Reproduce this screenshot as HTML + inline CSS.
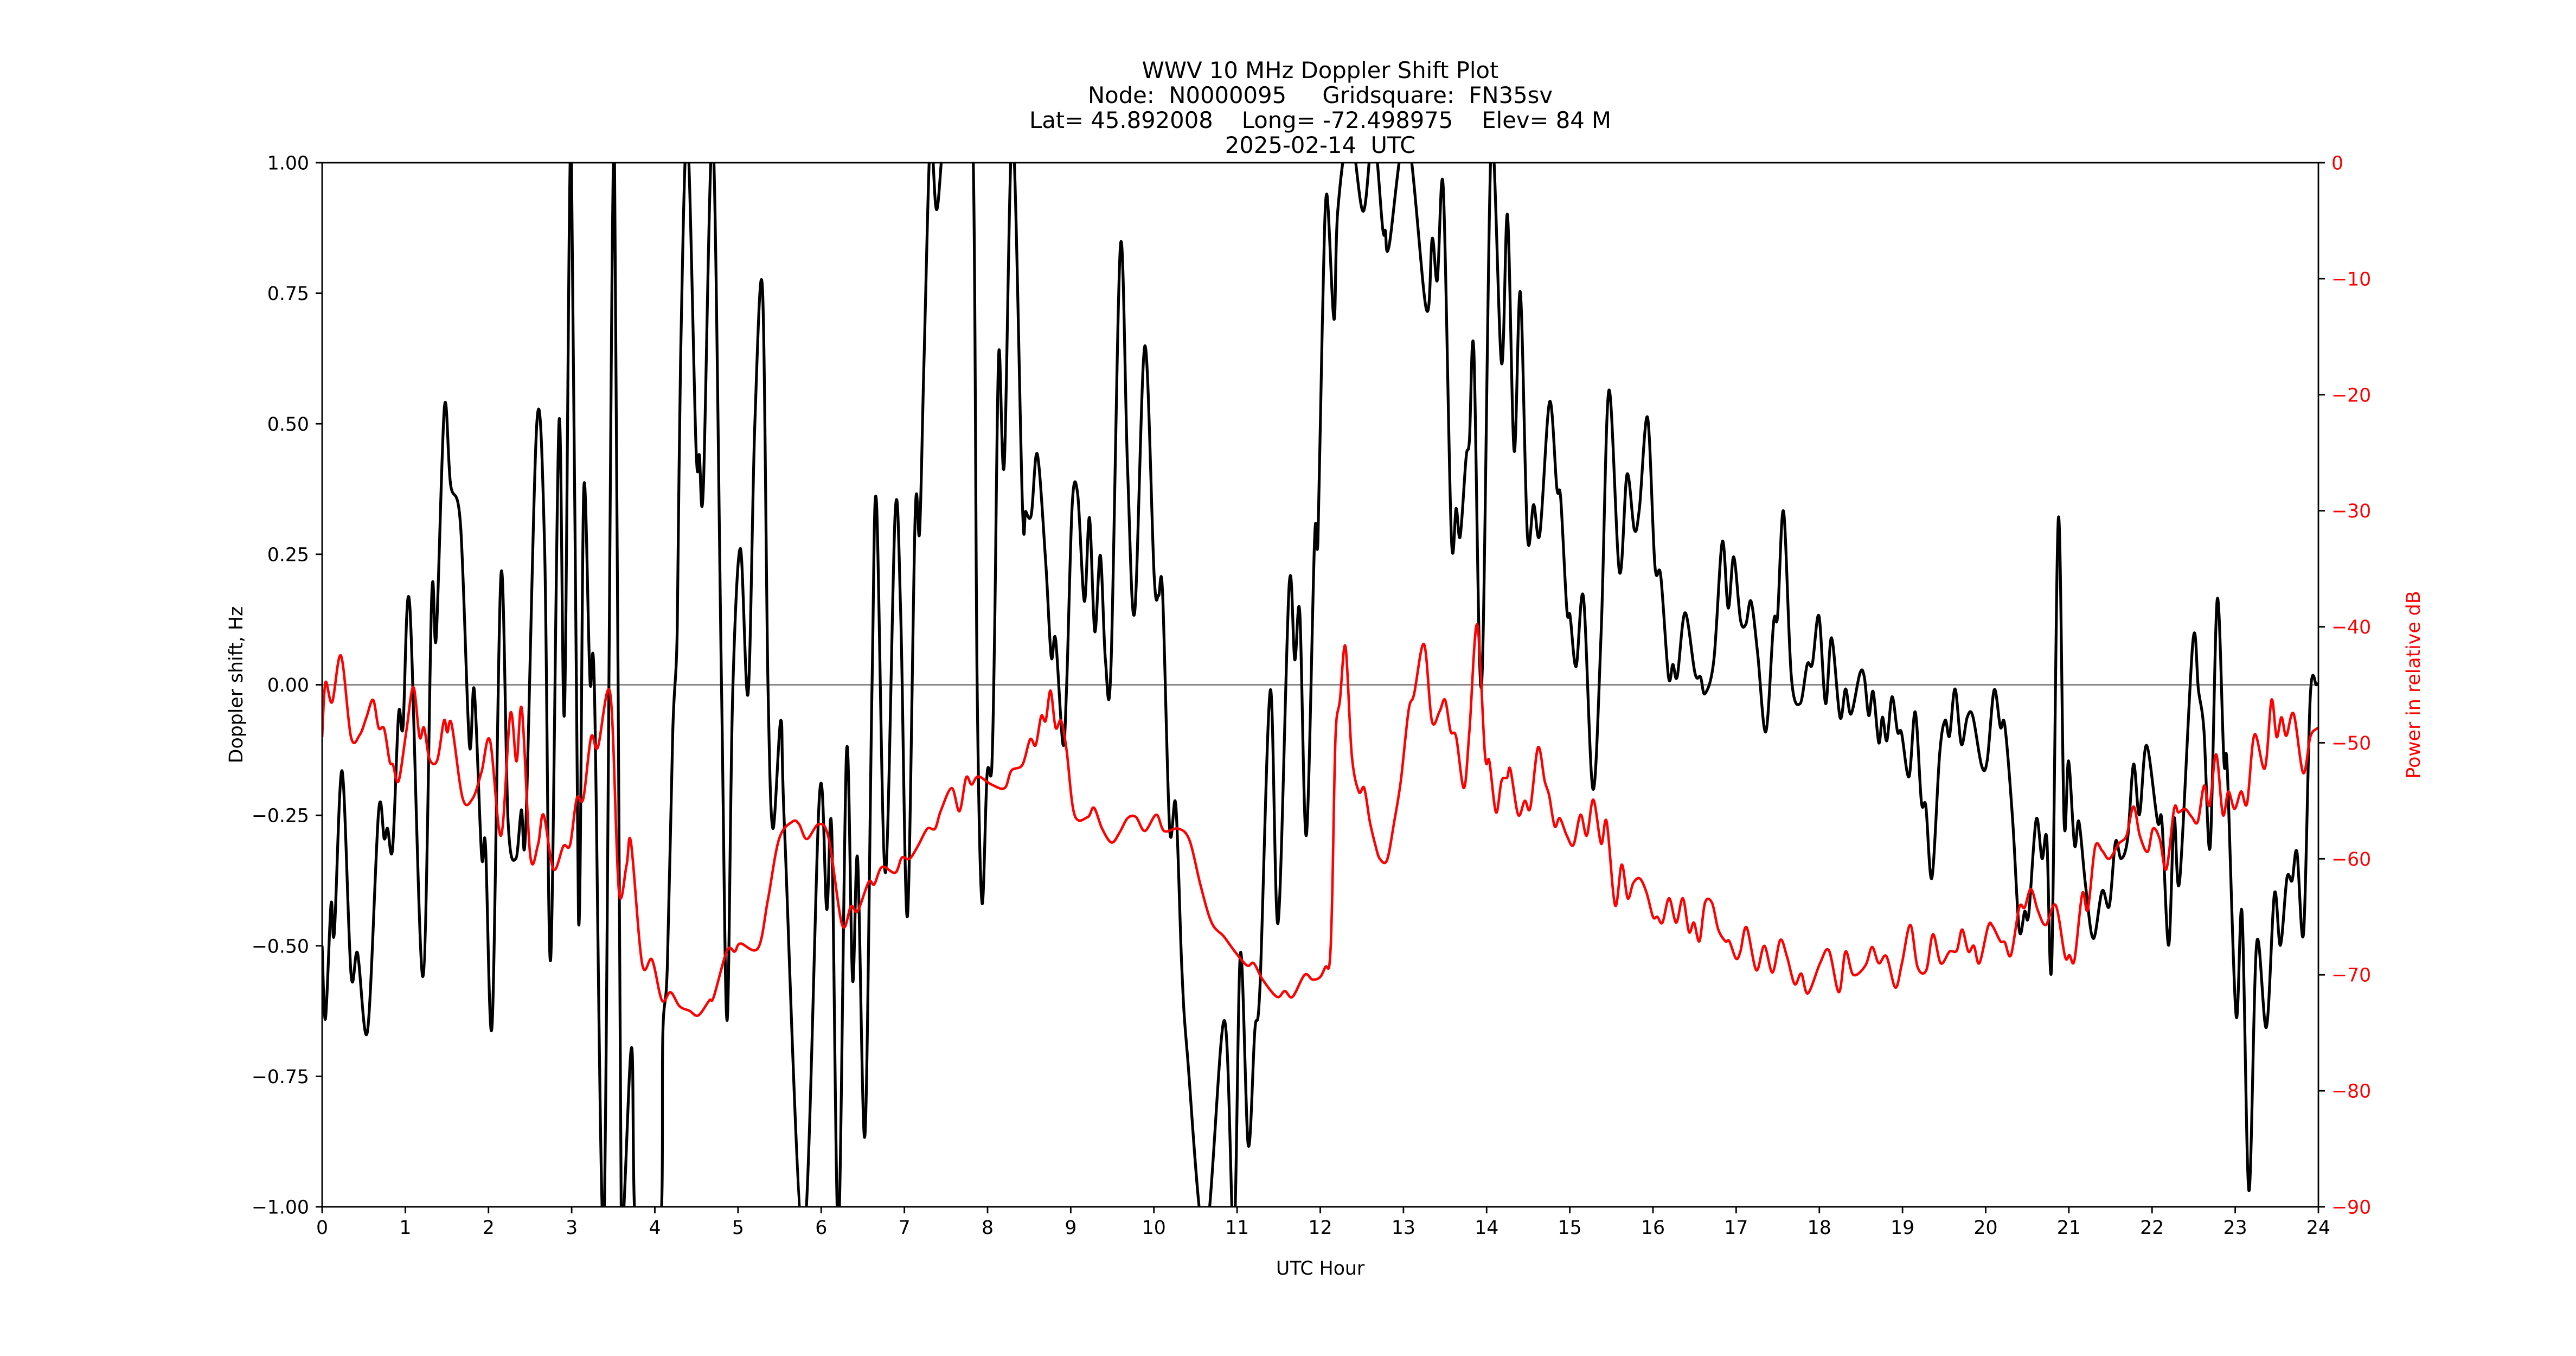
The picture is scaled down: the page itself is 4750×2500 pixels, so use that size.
<!DOCTYPE html>
<html><head><meta charset="utf-8"><title>WWV Doppler</title>
<style>html,body{margin:0;padding:0;background:#fff;width:4750px;height:2500px;overflow:hidden}svg{display:block;position:absolute;left:0;top:0}text{font-family:"DejaVu Sans","Liberation Sans",sans-serif}</style>
</head><body>
<svg id="chart" xmlns="http://www.w3.org/2000/svg" width="4750" height="2500" viewBox="0 0 4750 2500" overflow="hidden">
<rect x="0" y="0" width="4750" height="2500" fill="#fff"/>
<g font-size="41.7" text-anchor="middle" fill="#000" style="white-space:pre">
<text x="2434.5" y="144" xml:space="preserve">WWV 10 MHz Doppler Shift Plot</text>
<text x="2434.5" y="190" xml:space="preserve">Node:  N0000095     Gridsquare:  FN35sv</text>
<text x="2434.5" y="236" xml:space="preserve">Lat= 45.892008    Long= -72.498975    Elev= 84 M</text>
<text x="2434.5" y="282" xml:space="preserve">2025-02-14  UTC</text>
</g>
<defs><clipPath id="plotclip"><rect x="594" y="300" width="3681" height="1925"/></clipPath></defs>
<g id="plot" clip-path="url(#plotclip)"></g>
<rect x="594" y="300" width="3681" height="1925" fill="none" stroke="#000" stroke-width="2.8"/>
<g id="ticks"></g>
<text x="2434.5" y="2350" font-size="34.7" text-anchor="middle">UTC Hour</text>
<text transform="translate(447,1262.5) rotate(-90)" font-size="34.7" text-anchor="middle">Doppler shift, Hz</text>
<text transform="translate(4462,1262.5) rotate(-90)" font-size="34.7" text-anchor="middle" fill="#ff0000">Power in relative dB</text>
</svg>
<script>
const xTicks=[0,1,2,3,4,5,6,7,8,9,10,11,12,13,14,15,16,17,18,19,20,21,22,23,24];
const leftTicks=[1,0.75,0.5,0.25,0,-0.25,-0.5,-0.75,-1];
const leftTickLabels=["1.00","0.75","0.50","0.25","0.00","\u22120.25","\u22120.50","\u22120.75","\u22121.00"];
const rightTicks=[0,-10,-20,-30,-40,-50,-60,-70,-80,-90];
const rightTickLabels=["0","\u221210","\u221220","\u221230","\u221240","\u221250","\u221260","\u221270","\u221280","\u221290"];
const dopplerHours=[0,0.04,0.107,0.147,0.24,0.347,0.426,0.546,0.679,0.746,0.786,0.847,0.919,0.972,1.052,1.211,1.318,1.371,1.47,1.544,1.664,1.77,1.829,1.917,1.964,2.044,2.151,2.236,2.329,2.395,2.449,2.582,2.675,2.747,2.848,2.914,2.994,3.082,3.146,3.22,3.274,3.385,3.513,3.598,3.72,3.779,4.058,4.096,4.15,4.216,4.269,4.309,4.389,4.495,4.535,4.583,4.695,4.801,4.868,4.935,5.028,5.121,5.201,5.294,5.36,5.419,5.515,5.56,5.786,5.98,6.066,6.127,6.207,6.305,6.377,6.438,6.526,6.611,6.664,6.771,6.89,6.957,7.037,7.13,7.183,7.236,7.316,7.388,7.49,7.675,7.82,7.875,7.933,7.994,8.05,8.085,8.135,8.201,8.3,8.419,8.459,8.526,8.598,8.699,8.765,8.818,8.906,8.951,9.018,9.084,9.164,9.225,9.289,9.356,9.417,9.484,9.598,9.683,9.768,9.891,10.003,10.056,10.104,10.189,10.263,10.335,10.402,10.615,10.846,10.96,11.04,11.134,11.213,11.275,11.4,11.493,11.626,11.693,11.754,11.833,11.932,11.972,12.024,12.077,12.165,12.21,12.356,12.516,12.636,12.75,12.782,12.827,13.035,13.274,13.346,13.407,13.479,13.575,13.634,13.682,13.753,13.793,13.846,13.94,14.06,14.179,14.251,14.331,14.405,14.49,14.565,14.64,14.757,14.844,14.89,14.964,15.004,15.076,15.164,15.278,15.377,15.47,15.597,15.688,15.776,15.837,15.935,16.023,16.093,16.186,16.239,16.292,16.386,16.505,16.572,16.625,16.732,16.833,16.904,16.971,17.051,17.117,17.179,17.258,17.357,17.45,17.498,17.57,17.663,17.769,17.854,17.916,17.995,18.075,18.147,18.248,18.315,18.381,18.488,18.541,18.594,18.647,18.714,18.759,18.812,18.874,18.94,18.988,19.078,19.153,19.227,19.281,19.353,19.446,19.512,19.565,19.632,19.707,19.778,19.845,19.951,20.018,20.102,20.176,20.23,20.323,20.403,20.469,20.517,20.607,20.677,20.735,20.794,20.874,20.943,20.996,21.068,21.121,21.201,21.294,21.4,21.486,21.56,21.627,21.706,21.778,21.848,21.933,22.066,22.119,22.199,22.265,22.332,22.491,22.558,22.624,22.699,22.784,22.864,22.904,23.01,23.082,23.165,23.258,23.375,23.471,23.543,23.622,23.684,23.742,23.822,23.902,23.976,24];
const dopplerValues=[-0.5,-0.64,-0.42,-0.475,-0.165,-0.553,-0.514,-0.663,-0.243,-0.295,-0.275,-0.314,-0.056,-0.081,0.155,-0.559,0.17,0.09,0.532,0.384,0.306,-0.114,-0.01,-0.327,-0.307,-0.65,0.212,-0.262,-0.333,-0.24,-0.27,0.503,0.26,-0.527,0.504,-0.052,1.3,-0.45,0.377,0.009,-0.01,-1.3,1.3,-1.3,-0.695,-1.3,-1.1,-0.67,-0.54,-0.088,0.106,0.62,1.3,0.455,0.44,0.377,1.3,0,-0.643,-0.023,0.261,-0.017,0.494,0.758,0,-0.275,-0.068,-0.28,-1.5,-0.21,-0.43,-0.28,-1.05,-0.127,-0.566,-0.333,-0.863,0,0.351,-0.36,0.332,0.13,-0.443,0.326,0.293,0.62,1.2,0.91,1.4,1.5,1.1,0,-0.417,-0.172,-0.16,0.1,0.636,0.422,1.3,0.345,0.332,0.326,0.442,0.235,0.054,0.087,-0.114,0,0.345,0.364,0.16,0.32,0.102,0.248,0.048,0.035,0.842,0.416,0.138,0.649,0.209,0.171,0.177,-0.275,-0.23,-0.54,-0.708,-1.3,-0.643,-1.1,-0.514,-0.882,-0.663,-0.579,-0.01,-0.456,0.19,0.048,0.138,-0.288,0.28,0.276,0.687,0.94,0.7,0.907,1.2,0.907,1.1,0.875,0.87,0.84,1.3,0.72,0.855,0.775,0.952,0.287,0.338,0.284,0.435,0.468,0.642,0,1.3,0.616,0.9,0.448,0.752,0.287,0.345,0.289,0.542,0.377,0.358,0.145,0.132,0.035,0.168,-0.2,0.1,0.564,0.216,0.403,0.297,0.338,0.512,0.229,0.209,0.016,0.039,0.016,0.138,0.022,0.015,-0.017,0.048,0.274,0.147,0.245,0.125,0.116,0.16,0.061,-0.09,0.119,0.132,0.332,0.016,-0.036,0.039,0.04,0.132,-0.036,0.09,-0.062,-0.008,-0.056,0.022,0.015,-0.059,-0.013,-0.111,-0.062,-0.107,-0.023,-0.09,-0.092,-0.176,-0.052,-0.224,-0.233,-0.37,-0.134,-0.068,-0.098,-0.008,-0.114,-0.062,-0.06,-0.155,-0.145,-0.01,-0.081,-0.078,-0.256,-0.469,-0.434,-0.44,-0.258,-0.333,-0.295,-0.534,0.319,-0.262,-0.146,-0.307,-0.262,-0.385,-0.486,-0.395,-0.424,-0.301,-0.333,-0.295,-0.152,-0.249,-0.116,-0.262,-0.262,-0.499,-0.256,-0.375,0.083,-0.01,-0.088,-0.31,0.164,-0.146,-0.16,-0.633,-0.437,-0.969,-0.495,-0.656,-0.4,-0.499,-0.37,-0.375,-0.32,-0.475,-0.023,0,0];
const powerHours=[0,0.04,0.12,0.227,0.347,0.453,0.533,0.613,0.679,0.746,0.812,0.852,0.919,1.012,1.097,1.171,1.225,1.291,1.384,1.464,1.504,1.557,1.69,1.81,1.917,2.018,2.151,2.262,2.337,2.401,2.502,2.595,2.662,2.781,2.901,2.981,3.061,3.14,3.234,3.314,3.465,3.566,3.659,3.713,3.846,3.966,4.085,4.189,4.296,4.416,4.522,4.655,4.708,4.868,4.961,5.028,5.241,5.36,5.493,5.653,5.733,5.826,5.972,6.092,6.252,6.358,6.438,6.571,6.638,6.731,6.89,6.97,7.063,7.17,7.276,7.369,7.436,7.569,7.662,7.742,7.808,7.888,8.047,8.206,8.286,8.419,8.512,8.579,8.645,8.699,8.757,8.818,8.885,8.951,9.045,9.204,9.279,9.377,9.492,9.59,9.683,9.784,9.891,10.029,10.122,10.295,10.428,10.561,10.694,10.841,10.974,11.12,11.2,11.306,11.479,11.573,11.666,11.812,11.905,11.998,12.064,12.112,12.143,12.183,12.237,12.303,12.378,12.463,12.529,12.596,12.662,12.716,12.803,12.889,12.968,13.062,13.128,13.248,13.341,13.434,13.501,13.567,13.634,13.727,13.793,13.886,13.98,14.033,14.113,14.179,14.246,14.286,14.379,14.459,14.525,14.618,14.698,14.751,14.818,14.879,14.964,15.044,15.129,15.204,15.283,15.377,15.443,15.544,15.624,15.696,15.762,15.842,15.922,16.0,16.053,16.114,16.194,16.279,16.359,16.433,16.492,16.559,16.625,16.71,16.785,16.87,16.918,16.998,17.051,17.125,17.242,17.338,17.437,17.53,17.61,17.703,17.783,17.862,18.009,18.115,18.235,18.315,18.408,18.554,18.634,18.714,18.807,18.914,18.993,19.094,19.18,19.286,19.366,19.459,19.565,19.653,19.717,19.792,19.858,19.924,20.03,20.083,20.176,20.23,20.304,20.403,20.469,20.544,20.629,20.722,20.842,20.953,21.007,21.068,21.161,21.227,21.315,21.4,21.486,21.6,21.693,21.778,21.853,21.946,22.012,22.092,22.172,22.265,22.318,22.398,22.478,22.55,22.625,22.691,22.771,22.851,22.917,22.992,23.071,23.143,23.231,23.356,23.436,23.497,23.556,23.614,23.702,23.817,23.902,23.976,24];
const powerValues=[-49.5,-44.8,-46.5,-42.5,-49.5,-49.3,-47.8,-46.3,-48.7,-48.8,-51.6,-51.9,-53.3,-49,-45.2,-49.5,-48.7,-51.4,-51.5,-48.1,-49.1,-48.4,-54.8,-54.8,-52.5,-49.8,-58,-47.5,-51.6,-47.1,-59.7,-58.8,-56.2,-60.9,-58.9,-58.8,-54.8,-54.8,-49.5,-50.4,-45.8,-62.6,-60.6,-58.6,-69,-68.7,-72.2,-71.5,-72.7,-73.1,-73.5,-72.2,-71.9,-67.9,-68,-67.3,-67.7,-63.5,-58.3,-56.8,-57,-58.3,-57,-58.3,-65.7,-64.1,-64.5,-62,-62.2,-60.7,-61.2,-59.9,-60,-58.8,-57.4,-57.4,-55.9,-53.9,-55.9,-53,-53.6,-52.9,-53.6,-53.9,-52.4,-51.9,-49.7,-50.2,-47.7,-48.1,-45.5,-48.7,-48.1,-50.7,-56.2,-56.4,-55.6,-57.4,-58.6,-57.7,-56.5,-56.4,-57.6,-56.2,-57.6,-57.4,-58.4,-62.3,-65.5,-66.7,-68,-69.2,-69,-70.4,-71.9,-71.4,-71.9,-70,-70.4,-70.2,-69.3,-69,-63.5,-49.5,-46.3,-41.7,-51,-54.2,-53.9,-56.8,-58.8,-60,-60.1,-56.8,-53.3,-47.2,-45.8,-41.5,-48.1,-47.3,-46.3,-49,-49.5,-53.9,-49,-39.8,-51,-51.6,-56,-53.3,-53,-52.3,-56.2,-55,-55.6,-50.4,-53.3,-54.5,-57.2,-56.5,-58,-58.8,-56.2,-58,-54.9,-58.7,-56.8,-64,-60.5,-63.4,-62.1,-61.7,-62.9,-65,-65,-65.5,-63.4,-65.5,-63.4,-66.3,-65.5,-67.1,-63.8,-63.8,-66.1,-67.1,-67.1,-68.6,-68,-65.9,-69.6,-67.5,-69.8,-67,-68.4,-70.8,-69.9,-71.6,-69,-67.9,-71.5,-68,-70,-69.2,-67.6,-69,-68.4,-71.1,-69,-65.7,-69.3,-69.6,-66.5,-69,-68,-67.9,-66.1,-68,-67.5,-69,-65.8,-65.8,-67.1,-67.2,-68.3,-64.2,-64.2,-62.6,-64.5,-65.7,-64,-68.4,-68.3,-68.7,-63,-64.4,-59,-59.3,-60,-58.7,-58,-55.5,-58,-59.4,-57.4,-58.3,-60.9,-55.7,-56,-55.7,-56.4,-56.8,-53.7,-55.4,-51,-56.2,-54.2,-55.7,-54.2,-55.2,-49.3,-52.2,-46.3,-49.5,-47.8,-49.4,-47.5,-52.6,-49.5,-48.8,-48.8];

const NS='http://www.w3.org/2000/svg';
const X0=594,X1=4275,Y0=300,Y1=2225;
function xScale(h){return X0+(h-0)/(24-0)*(X1-X0);}
function yLeft(v){return Y0+(1-v)/(2)*(Y1-Y0);}
function yRight(d){return Y0+(0-d)/(90)*(Y1-Y0);}
function clampY(y){return Math.max(Y0-60,Math.min(Y1+60,y));}
function smoothPath(xs,ys){
  const p=xs.map((x,i)=>[x,ys[i]]);
  let d='M'+p[0][0].toFixed(1)+','+p[0][1].toFixed(1);
  for(let i=0;i<p.length-1;i++){
    const a=p[Math.max(0,i-1)],b=p[i],c=p[i+1],e=p[Math.min(p.length-1,i+2)];
    const c1x=b[0]+(c[0]-a[0])/6,c1y=clampY(b[1]+(c[1]-a[1])/6);
    const c2x=c[0]-(e[0]-b[0])/6,c2y=clampY(c[1]-(e[1]-b[1])/6);
    d+='C'+c1x.toFixed(1)+','+c1y.toFixed(1)+' '+c2x.toFixed(1)+','+c2y.toFixed(1)+' '+c[0].toFixed(1)+','+c[1].toFixed(1);
  }
  return d;
}
const plot=document.getElementById('plot');
const zero=document.createElementNS(NS,'line');
zero.setAttribute('x1',X0);zero.setAttribute('x2',X1);
zero.setAttribute('y1',yLeft(0));zero.setAttribute('y2',yLeft(0));
zero.setAttribute('stroke','#808080');zero.setAttribute('stroke-width','2.8');


plot.appendChild(zero);
const black=document.createElementNS(NS,'path');
black.setAttribute('d',smoothPath(dopplerHours.map(xScale),dopplerValues.map(function(v){return clampY(yLeft(v));})));
black.setAttribute('fill','none');black.setAttribute('stroke','#000');black.setAttribute('stroke-width','5.2');black.setAttribute('stroke-linejoin','round');


plot.appendChild(black);
const red=document.createElementNS(NS,'path');
red.setAttribute('d',smoothPath(powerHours.map(xScale),powerValues.map(function(v){return clampY(yRight(v));})));
red.setAttribute('fill','none');red.setAttribute('stroke','#ff0000');red.setAttribute('stroke-width','4.6');red.setAttribute('stroke-linejoin','round');


plot.appendChild(red);

const ticks=document.getElementById('ticks');
function mk(tag,attrs){const el=document.createElementNS(NS,tag);for(const k in attrs)el.setAttribute(k,attrs[k]);return el;}
xTicks.forEach(function(t){
  const x=xScale(t);
  const l=mk('line',{x1:x,x2:x,y1:Y1,y2:Y1+12,stroke:'#000','stroke-width':2.8});
  
  
  ticks.appendChild(l);
  const tx=mk('text',{x:x,y:2275,'font-size':34.7,'text-anchor':'middle'});
  tx.textContent=String(t);
  
  
  ticks.appendChild(tx);
});
leftTicks.forEach(function(t,i){
  const y=yLeft(t);
  const l=mk('line',{x1:X0-12,x2:X0,y1:y,y2:y,stroke:'#000','stroke-width':2.8});
  
  
  ticks.appendChild(l);
  const tx=mk('text',{x:X0-24,y:y+12.5,'font-size':34.7,'text-anchor':'end'});
  tx.textContent=leftTickLabels[i];
  
  
  ticks.appendChild(tx);
});
rightTicks.forEach(function(t,i){
  const y=yRight(t);
  const l=mk('line',{x1:X1,x2:X1+12,y1:y,y2:y,stroke:'#000','stroke-width':2.8});
  
  
  ticks.appendChild(l);
  const tx=mk('text',{x:X1+24,y:y+12.5,'font-size':34.7,'text-anchor':'start',fill:'#ff0000'});
  tx.textContent=rightTickLabels[i];
  
  
  ticks.appendChild(tx);
});
</script>
</body></html>
